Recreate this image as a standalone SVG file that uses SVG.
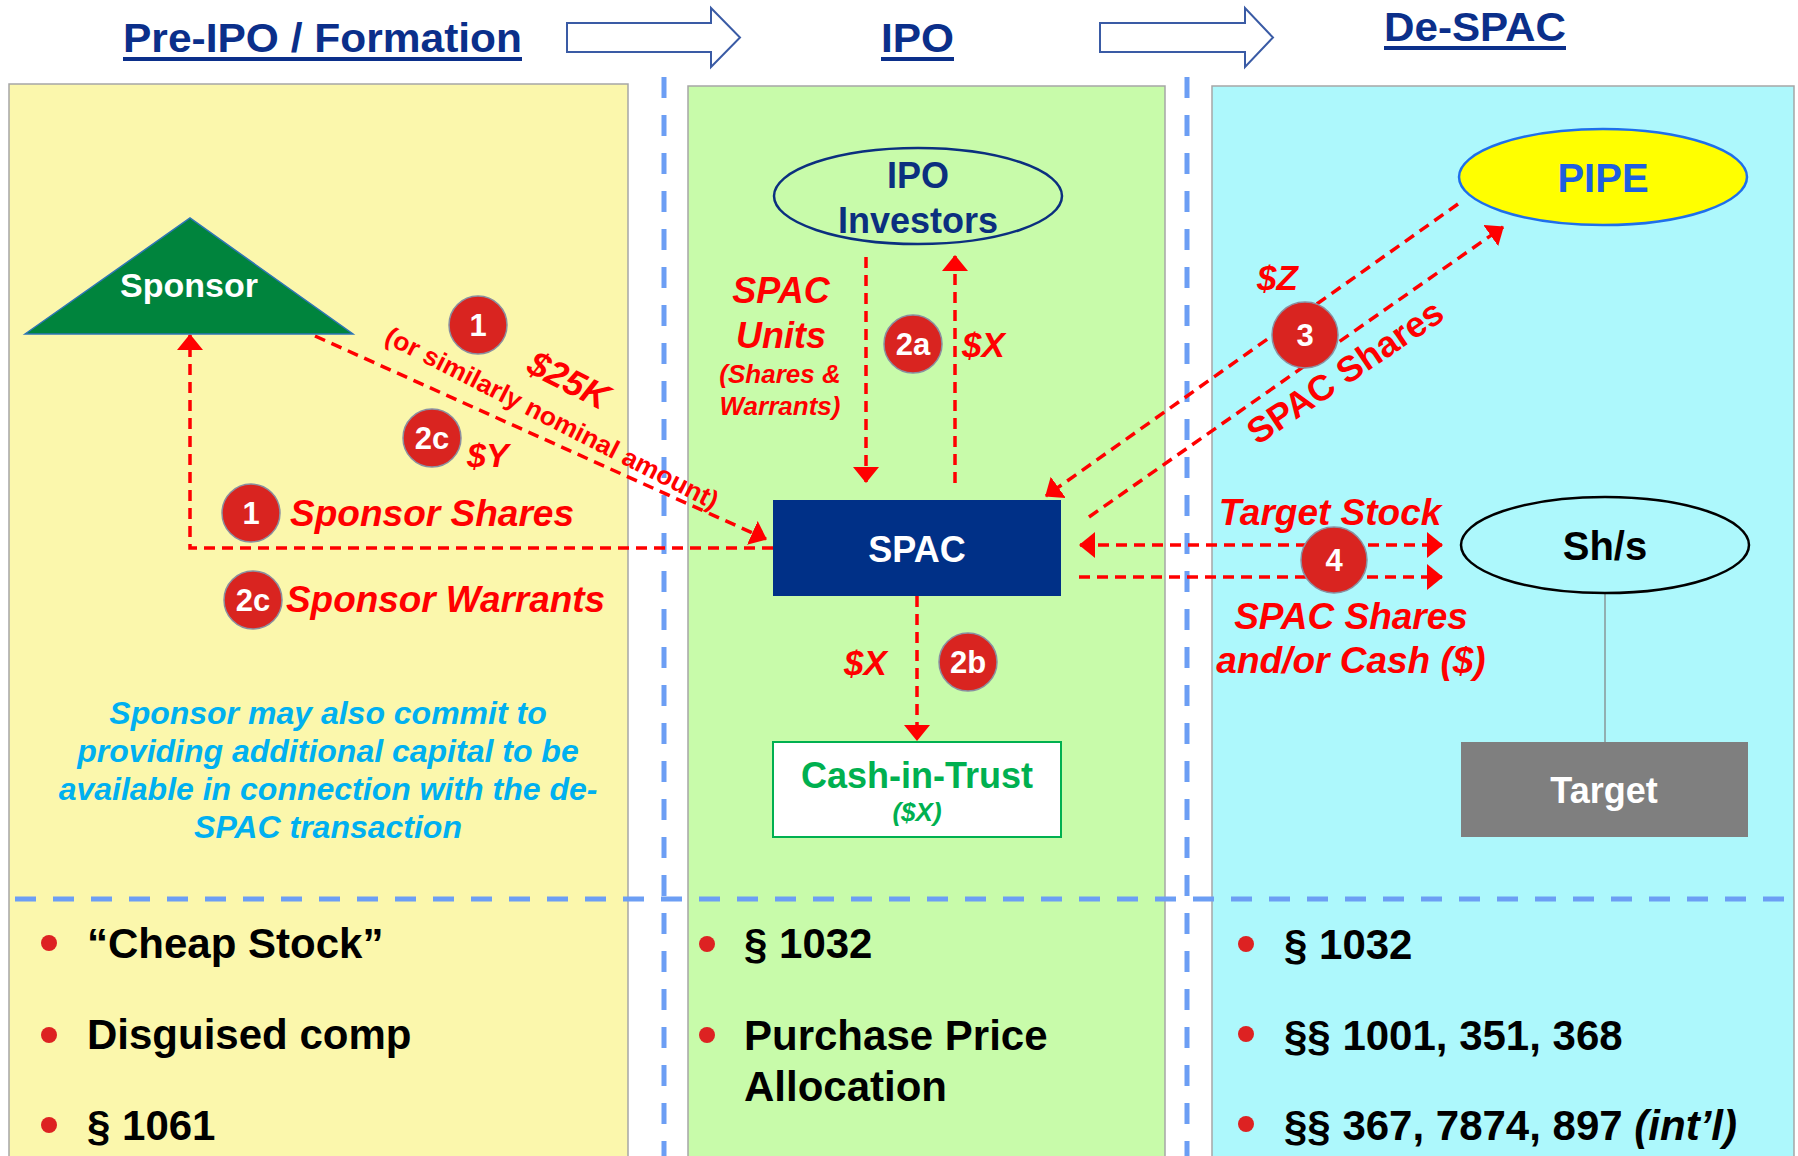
<svg xmlns="http://www.w3.org/2000/svg" width="1798" height="1156" viewBox="0 0 1798 1156">
<defs>
<style>
text { font-family: 'Liberation Sans', Arial, Helvetica, sans-serif; font-weight: bold; }
.title { font-size: 41px; fill: #0B2F8A; }
.ul { fill: #0B2F8A; }
.panel { stroke: #A6A6A6; stroke-width: 1.5; }
.sep { stroke: #6C9EF4; stroke-width: 5; stroke-dasharray: 21 17; fill: none; }
.flow { stroke: #FF0000; stroke-width: 3.5; stroke-dasharray: 11 7; fill: none; }
.red { fill: #FF0000; }
.it { font-style: italic; }
.mid { text-anchor: middle; }
.badge circle { fill: #D92420; stroke: #8A8FA0; stroke-width: 1.5; }
.badge text { fill: #FFFFFF; font-size: 31px; text-anchor: middle; }
.bullet circle { fill: #DD2222; }
.bullet text { font-size: 42px; fill: #000000; }
.blk { fill: #FFFFFF; stroke: #3A5BA5; stroke-width: 2; }
.note { fill: #00B0F0; font-size: 32px; font-style: italic; text-anchor: middle; }
</style>
<marker id="ah" viewBox="0 0 16 26" markerUnits="userSpaceOnUse" markerWidth="16" markerHeight="26" refX="15" refY="13" orient="auto-start-reverse">
<path d="M0,0 L16,13 L0,26 Z" fill="#FF0000"/>
</marker>
</defs>

<rect x="0" y="0" width="1798" height="1156" fill="#FFFFFF"/>

<g id="panels">
<rect x="9" y="84" width="619" height="1090" fill="#FBF7AC" class="panel"/>
<rect x="688" y="86" width="477" height="1090" fill="#C8FBAA" class="panel"/>
<rect x="1212" y="86" width="582" height="1090" fill="#ADF8FC" class="panel"/>
</g>

<g id="separators">
<path class="sep" d="M664,77 V1156 M1187,77 V1156 M15,899 H1793"/>
</g>

<g id="headers">
<text class="title" x="123" y="52" textLength="399" lengthAdjust="spacingAndGlyphs">Pre-IPO / Formation</text>
<rect class="ul" x="123" y="57" width="399" height="4"/>
<path class="blk" d="M567,23 H711 V8 L740,37.5 L711,67 V52 H567 Z"/>
<text class="title" x="881" y="52" textLength="73" lengthAdjust="spacingAndGlyphs">IPO</text>
<rect class="ul" x="881" y="57" width="73" height="4"/>
<path class="blk" d="M1100,23 H1245 V8 L1273,37.5 L1245,67 V52 H1100 Z"/>
<text class="title" x="1384" y="41" textLength="182" lengthAdjust="spacingAndGlyphs">De-SPAC</text>
<rect class="ul" x="1384" y="46" width="182" height="4"/>
</g>

<g id="connectors">
<path class="flow" d="M773,548 H190 V335" marker-end="url(#ah)"/>
<path class="flow" d="M315,336 L766,539" marker-end="url(#ah)"/>
<path class="flow" d="M866,257 V482" marker-end="url(#ah)"/>
<path class="flow" d="M955,483 V256" marker-end="url(#ah)"/>
<path class="flow" d="M917,596 V740" marker-end="url(#ah)"/>
<path class="flow" d="M1458,204 L1046,496" marker-end="url(#ah)"/>
<path class="flow" d="M1089,517 L1503,227" marker-end="url(#ah)"/>
<path class="flow" d="M1080,545 H1442" marker-start="url(#ah)" marker-end="url(#ah)"/>
<path class="flow" d="M1079,577 H1442" marker-end="url(#ah)"/>
<path d="M1605,593 V742" stroke="#7F7F7F" stroke-width="1.2" fill="none"/>
</g>

<g id="sponsor">
<polygon points="25,334 190,218 353,334" fill="#00843D" stroke="#2E75B6" stroke-width="1.5"/>
<text x="189" y="297" class="mid" font-size="34" fill="#FFFFFF">Sponsor</text>
</g>

<g id="ipo-investors">
<ellipse cx="918" cy="196" rx="144" ry="48" fill="none" stroke="#0B2F7F" stroke-width="2.5"/>
<text x="918" y="188" class="mid" font-size="36" fill="#0B2F7F">IPO</text>
<text x="918" y="233" class="mid" font-size="36" fill="#0B2F7F">Investors</text>
</g>

<g id="spac">
<rect x="773" y="500" width="288" height="96" fill="#003087"/>
<text x="917" y="562" class="mid" font-size="36" fill="#FFFFFF">SPAC</text>
</g>

<g id="cash-in-trust">
<rect x="773" y="742" width="288" height="95" fill="#FFFFFF" stroke="#00B050" stroke-width="2"/>
<text x="917" y="788" class="mid" font-size="36" fill="#00B050">Cash-in-Trust</text>
<text x="917" y="821" class="mid it" font-size="26" fill="#00B050">($X)</text>
</g>

<g id="pipe">
<ellipse cx="1603" cy="177" rx="144" ry="48" fill="#FFFF00" stroke="#1F6FEB" stroke-width="2.5"/>
<text x="1603" y="192" class="mid" font-size="40" fill="#1F5FE0">PIPE</text>
</g>

<g id="shareholders">
<ellipse cx="1605" cy="545" rx="144" ry="48" fill="none" stroke="#000000" stroke-width="2.5"/>
<text x="1605" y="560" class="mid" font-size="40" fill="#000000">Sh/s</text>
</g>

<g id="target">
<rect x="1461" y="742" width="287" height="95" fill="#7F7F7F"/>
<text x="1604" y="803" class="mid" font-size="36" fill="#FFFFFF">Target</text>
</g>

<g id="labels">
<text class="red it mid" font-size="36" transform="translate(563,391) rotate(27)">$25K</text>
<text class="red mid" font-size="26" textLength="370" lengthAdjust="spacingAndGlyphs" transform="translate(548,426) rotate(27)">(or similarly nominal amount)</text>
<text class="red it" x="467" y="467" font-size="34">$Y</text>
<text class="red it" x="290" y="526" font-size="37" textLength="284" lengthAdjust="spacingAndGlyphs">Sponsor Shares</text>
<text class="red it" x="286" y="612" font-size="37" textLength="319" lengthAdjust="spacingAndGlyphs">Sponsor Warrants</text>
<text class="red it mid" x="781" y="303" font-size="36">SPAC</text>
<text class="red it mid" x="781" y="348" font-size="36">Units</text>
<text class="red it mid" x="780" y="383" font-size="26">(Shares &amp;</text>
<text class="red it mid" x="780" y="415" font-size="26">Warrants)</text>
<text class="red it" x="962" y="357" font-size="35">$X</text>
<text class="red it" x="844" y="675" font-size="35">$X</text>
<text class="red it" x="1257" y="290" font-size="35">$Z</text>
<text class="red mid" font-size="36" textLength="228" lengthAdjust="spacingAndGlyphs" transform="translate(1352,382) rotate(-34)">SPAC Shares</text>
<text class="red it mid" x="1330" y="525" font-size="37">Target Stock</text>
<text class="red it mid" x="1351" y="629" font-size="37">SPAC Shares</text>
<text class="red it mid" x="1351" y="673" font-size="37">and/or Cash ($)</text>
</g>

<g id="sponsor-note">
<text class="note" x="328" y="724">Sponsor may also commit to</text>
<text class="note" x="328" y="762">providing additional capital to be</text>
<text class="note" x="328" y="800">available in connection with the de-</text>
<text class="note" x="328" y="838">SPAC transaction</text>
</g>

<g id="badges">
<g class="badge"><circle cx="478" cy="325" r="29"/><text x="478" y="336">1</text></g>
<g class="badge"><circle cx="432" cy="438" r="29"/><text x="432" y="449">2c</text></g>
<g class="badge"><circle cx="251" cy="513" r="29"/><text x="251" y="524">1</text></g>
<g class="badge"><circle cx="253" cy="600" r="29"/><text x="253" y="611">2c</text></g>
<g class="badge"><circle cx="913" cy="344" r="29"/><text x="913" y="355">2a</text></g>
<g class="badge"><circle cx="968" cy="662" r="29"/><text x="968" y="673">2b</text></g>
<g class="badge"><circle cx="1305" cy="335" r="33"/><text x="1305" y="346">3</text></g>
<g class="badge"><circle cx="1334" cy="560" r="33"/><text x="1334" y="571">4</text></g>
</g>

<g id="bullets-preipo" class="bullet">
<circle cx="49" cy="943" r="8"/><text x="87" y="958">“Cheap Stock”</text>
<circle cx="49" cy="1035" r="8"/><text x="87" y="1049">Disguised comp</text>
<circle cx="49" cy="1125" r="8"/><text x="87" y="1140">§ 1061</text>
</g>

<g id="bullets-ipo" class="bullet">
<circle cx="707" cy="944" r="8"/><text x="744" y="958">§ 1032</text>
<circle cx="707" cy="1035" r="8"/><text x="744" y="1050">Purchase Price</text>
<text x="744" y="1101">Allocation</text>
</g>

<g id="bullets-despac" class="bullet">
<circle cx="1246" cy="944" r="8"/><text x="1284" y="959">§ 1032</text>
<circle cx="1246" cy="1034" r="8"/><text x="1284" y="1050">§§ 1001, 351, 368</text>
<circle cx="1246" cy="1124" r="8"/><text x="1284" y="1140">§§ 367, 7874, 897 <tspan font-style="italic">(int’l)</tspan></text>
</g>
</svg>
